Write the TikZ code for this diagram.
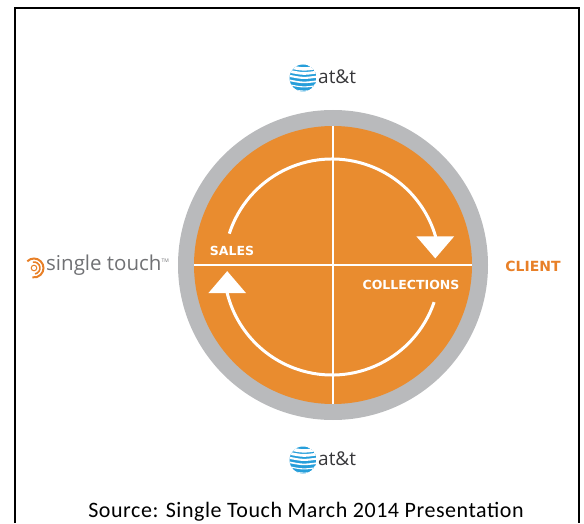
\documentclass[tikz,border=0pt]{standalone}
\usepackage{fontspec}
\usepackage{tikz}
\usetikzlibrary{arrows.meta}
\usetikzlibrary{positioning}
\setmainfont{Carlito}[LetterSpace=2.5]
\newfontfamily\labelfont{DejaVu Sans}
\newfontfamily\logofont{Open Sans}
\definecolor{discorange}{RGB}{233,140,47}
\definecolor{ringgrey}{RGB}{185,186,188}
\definecolor{clientorange}{RGB}{232,128,40}
\definecolor{globeblue}{RGB}{38,158,218}
\definecolor{touchgrey}{RGB}{112,113,116}
\definecolor{attgrey}{RGB}{55,55,58}
\newcommand{\attglobe}[1]{%
  \begin{scope}
    \clip (#1) circle (13.5);
    \fill[globeblue] (#1) circle (13.5);
    \foreach \dy/\w in {10/3.4,5.5/2.8,1/2.1,-3.5/1.6,-8/1.1,-12/0.7}
      \draw[white, line width=\w] ([shift={(-15,\dy+1.5)}]#1) .. controls ([shift={(0,\dy-1.5)}]#1) .. ([shift={(15,\dy+0.5)}]#1);
  \end{scope}}

\begin{document}
\begin{tikzpicture}[x=1pt,y=1pt,
    cyc/.style={white, line width=3, -{Triangle[width=37,length=22]}},
    quarter/.style={white, line width=1.6},
    stage/.style={text=white, font=\labelfont\bfseries\fontsize{12.5}{14}\selectfont, inner sep=0},
    att/.style={text=attgrey, font=\logofont\fontsize{19}{22}\selectfont, anchor=west, inner sep=0}]
  \useasboundingbox (0,0) rectangle (584,523);
  \draw[line width=1.5] (15,0) -- (15,515) -- (579,515) -- (579,0);

  %ring and disc
  \coordinate (c) at (333,258);
  \node[circle, fill=ringgrey, minimum size=310, inner sep=0, outer sep=0] (ring) at (c) {};
  \node[circle, fill=discorange, minimum size=278, inner sep=0, outer sep=0] (disc) at (c) {};
  \draw[quarter] (disc.north) -- (disc.south);
  \draw[quarter] (disc.west) -- (disc.east);

  %cycle arrows
  \coordinate (o) at (332,256);
  \draw[cyc] ([shift={(162:108)}]o) arc[start angle=162, end angle=17, radius=108] -- ++(0,-23);
  \draw[cyc] ([shift={(-19:108)}]o) arc[start angle=-19, end angle=-166, radius=108] -- ++(0,22);
  \node[stage] (sales) at (232,272) {SALES};
  \node[stage] (coll) at (411,238) {COLLECTIONS};

  \node[text=clientorange, font=\labelfont\bfseries\fontsize{14}{16}\selectfont, inner sep=0] (client) at (533,257) {CLIENT};

  %at&t logos
  \coordinate (gtop) at (303,445);
  \attglobe{gtop}
  \node[att] (atttop) at (318,446) {at\&t};
  \coordinate (gbot) at (303,63);
  \attglobe{gbot}
  \node[att] (attbot) at (318,64) {at\&t};

  %single touch logo
  \coordinate (st) at (34,255);
  \draw[clientorange, line width=2] ([shift={(135:9.5)}]st) arc[start angle=135, end angle=-100, radius=9.5];
  \draw[clientorange, line width=1.6] ([shift={(100:6)}]st) arc[start angle=100, end angle=-80, radius=6];
  \draw[clientorange, line width=1] (st) circle (2.8);
  \node[text=touchgrey, font=\logofont\fontsize{20.5}{23}\selectfont, anchor=west, inner sep=0] (touch) at (46,258) {single touch\textsuperscript{\tiny TM}};

  \node[anchor=base, font=\fontsize{22}{26}\selectfont, inner sep=0] (source) at (306,6) {Source: Single Touch March 2014 Presentation};
\end{tikzpicture}
\end{document}
